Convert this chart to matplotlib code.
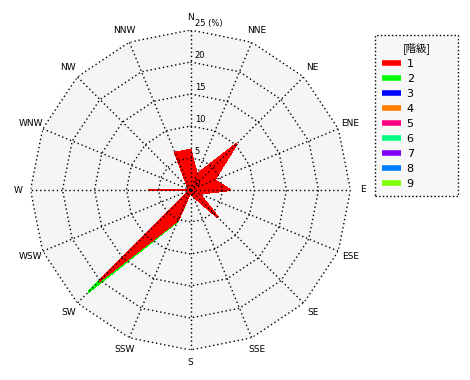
import numpy as np
import matplotlib.pyplot as plt
from matplotlib.lines import Line2D

# 16 wind directions, clockwise from north
directions = ['N', 'NNE', 'NE', 'ENE', 'E', 'ESE', 'SE', 'SSE',
              'S', 'SSW', 'SW', 'WSW', 'W', 'WNW', 'NW', 'NNW']

# frequency (%) per class
class1 = [6.3, 2.6, 10.2, 4.0, 6.2, 1.5, 6.0, 1.0,
          0.3, 5.1, 20.1, 0.0, 6.6, 0.0, 0.5, 6.3]
class2 = [0.0, 0.0, 0.0, 0.0, 0.0, 0.0, 0.0, 0.0,
          0.0, 0.2, 2.4, 0.0, 0.0, 0.0, 0.0, 0.0]
zeros = [0.0] * 16
classes = [class1, class2] + [zeros] * 7

class_labels = ['1', '2', '3', '4', '5', '6', '7', '8', '9']
class_colors = ['#ff0000', '#00ff00', '#0000ff', '#ff8000', '#ff0080',
                '#00ff80', '#8000ff', '#0080ff', '#80ff00']

rings = [5, 10, 15, 20, 25]
r_max = 25

W, H = 470, 380
fig = plt.figure(figsize=(W / 100, H / 100), dpi=100)
cx, cy, rad = 190.5, 190, 160
ax = fig.add_axes([(cx - rad) / W, (H - cy - rad) / H, 2 * rad / W, 2 * rad / H],
                  projection='polar')
ax.set_theta_zero_location('N')
ax.set_theta_direction(-1)
ax.set_ylim(0, r_max)
ax.grid(False)
ax.set_xticks([])
ax.set_yticks([])
ax.spines['polar'].set_visible(False)
ax.set_facecolor('none')

theta = np.deg2rad(np.arange(len(directions)) * 22.5)
tc = np.append(theta, theta[0])

# plot background polygon
ax.fill(tc, [r_max] * len(tc), color='#f5f5f5', lw=0, zorder=0)

# stacked frequencies, outermost class drawn first
cum = np.cumsum(np.array(classes), axis=0)
for i in range(len(classes) - 1, -1, -1):
    vals = np.append(cum[i], cum[i][0])
    if vals.max() <= 0:
        continue
    ax.fill(tc, vals, facecolor=class_colors[i], edgecolor=class_colors[i],
            lw=0.8, antialiased=False, zorder=2 + (len(classes) - i) * 0.01)

# polygonal grid
dot = dict(color='black', lw=1, linestyle=(0, (1, 2)), zorder=5)
for r in rings:
    ax.plot(tc, [r] * len(tc), **dot)
for t in theta:
    ax.plot([t, t], [0, r_max], **dot)

# direction labels
for t, d in zip(theta, directions):
    ax.text(t, 27.0, d, ha='center', va='center', fontsize=6.5,
            family='DejaVu Sans', clip_on=False)

# radial labels
for r in [0] + rings:
    lab = '25 (%)' if r == 25 else str(r)
    ax.annotate(lab, xy=(0, r), xytext=(3, 1.5), textcoords='offset points',
                ha='left', va='bottom', fontsize=6, family='DejaVu Sans')

handles = [Line2D([], [], color=c, lw=4, solid_capstyle='butt')
           for c in class_colors]
leg = fig.legend(handles, class_labels, title='[階級]',
                 loc='upper left', mode='expand',
                 bbox_to_anchor=(375 / W, 1 - 196 / H, 83 / W, 161 / H),
                 fontsize=8, title_fontsize=7.5, handlelength=1.7,
                 handletextpad=0.5, labelspacing=0.45, borderpad=0.65,
                 borderaxespad=0, fancybox=False, framealpha=1)
leg.get_title().set_family(['Noto Sans CJK JP', 'DejaVu Sans'])
frame = leg.get_frame()
frame.set_facecolor('#f7f7f7')
frame.set_edgecolor('black')
frame.set_linestyle(':')
frame.set_linewidth(1)

fig.savefig('out.png', dpi=100)
